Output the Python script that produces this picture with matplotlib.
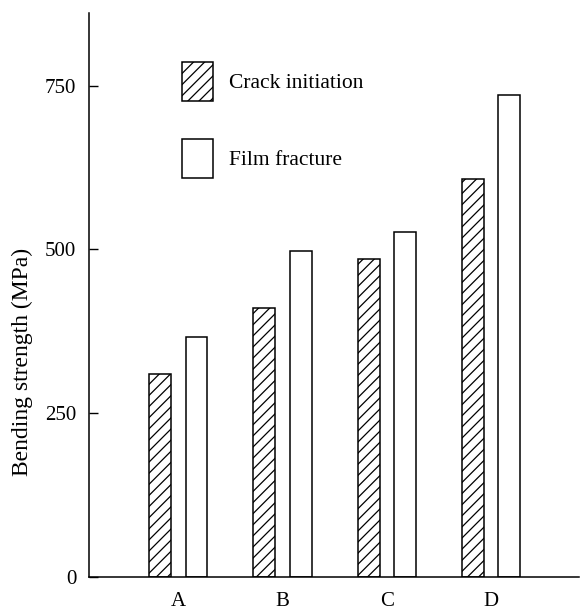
import matplotlib
matplotlib.use("Agg")
import matplotlib.pyplot as plt
import numpy as np

samples = ["A", "B", "C", "D"]
crack_initiation = [310, 410, 486, 607]
film_fracture = [367, 497, 527, 735]
y_ticks = [0, 250, 500, 750]

plt.rcParams["font.family"] = ["Liberation Serif", "DejaVu Serif"]
plt.rcParams["hatch.linewidth"] = 0.9

fig = plt.figure(figsize=(5.81, 6.10), dpi=100)
ax = fig.add_axes([0.153, 0.054, 0.843, 0.925])

x = np.arange(len(samples))
w = 0.21
off = 0.175
ax.bar(x - off, crack_initiation, w, facecolor="white", edgecolor="black",
       hatch="///", linewidth=1.1, label="Crack initiation")
ax.bar(x + off, film_fracture, w, facecolor="white", edgecolor="black",
       linewidth=1.1, label="Film fracture")

ax.set_xlim(-0.857, 3.84)
ax.set_ylim(0, 861)
ax.set_yticks(y_ticks)
ax.set_xticks(x)
ax.set_xticklabels(samples)
ax.tick_params(axis="y", direction="in", length=6.5, width=1.0, labelsize=15, pad=9)
ax.tick_params(axis="x", length=0, labelsize=15, pad=11)
for s in ["top", "right"]:
    ax.spines[s].set_visible(False)
for s in ["left", "bottom"]:
    ax.spines[s].set_linewidth(1.1)
ax.set_ylabel("Bending strength (MPa)", fontsize=17)
ax.yaxis.set_label_coords(-0.115, 0.381)

ax.legend(loc="upper left", bbox_to_anchor=(0.313, 0.898), bbox_transform=fig.transFigure,
          frameon=False, fontsize=15.5, borderpad=0, borderaxespad=0,
          handlelength=1.44, handleheight=2.41, handletextpad=0.74, labelspacing=1.77)

fig.savefig("out.png", dpi=100)
